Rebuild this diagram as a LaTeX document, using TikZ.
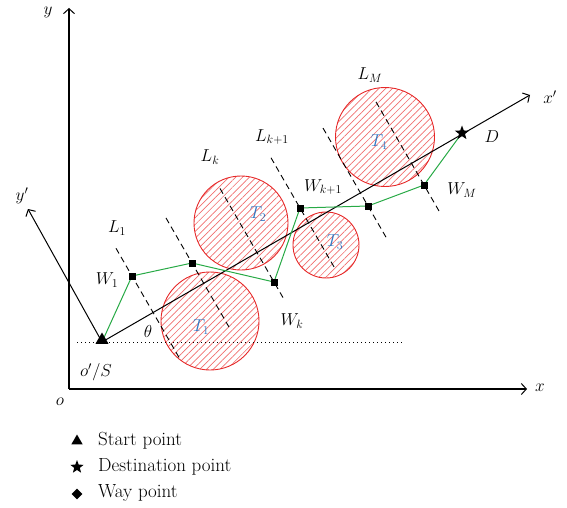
\documentclass[tikz,border=0pt]{standalone}
\usetikzlibrary{arrows.meta,shapes.geometric,shapes.misc,calc,patterns.meta}
\definecolor{hatchred}{RGB}{240,110,110}
\definecolor{circred}{RGB}{230,40,40}
\definecolor{pathgreen}{RGB}{40,170,70}
\definecolor{tblue}{RGB}{50,120,195}
\tikzset{
  lbl/.style={font=\fontsize{18}{21}\selectfont, inner sep=0pt},
  leg/.style={font=\fontsize{19}{22}\selectfont, inner sep=0pt},
  tlbl/.style={font=\fontsize{18}{21}\selectfont, inner sep=0pt, text=tblue},
  axis/.style={line width=1.6pt, -{Straight Barb[length=5pt,width=11pt,line width=1pt]}},
  paxis/.style={line width=1pt, -{Straight Barb[length=5pt,width=11pt,line width=1pt]}},
  obst/.style={draw=circred, line width=0.9pt, pattern={Lines[angle=45,distance=4.8pt,line width=0.7pt]}, pattern color=hatchred},
  wp/.style={fill=black, rectangle, minimum size=7pt, inner sep=0pt},
  gpath/.style={draw=pathgreen, line width=1pt},
  dline/.style={line width=0.9pt, dash pattern=on 6pt off 4pt},
}
\begin{document}
\begin{tikzpicture}[x=1pt,y=-1pt]
\useasboundingbox (0,0) rectangle (567,508);
% obstacles
\draw[obst] (210,321) circle (49);
\draw[obst] (241,223) circle (47);
\draw[obst] (326,245) circle (33);
\draw[obst] (385,137) circle (49.5);
\node[tlbl] (t1) at (201,327) {$T_1$};
\node[tlbl] (t2) at (258,214) {$T_2$};
\node[tlbl] (t3) at (335,242) {$T_3$};
\node[tlbl] (t4) at (379,142) {$T_4$};
% axes
\coordinate (o) at (69,389);
\coordinate (ytip) at (69,8);
\coordinate (xtip) at (527,389);
\draw[axis] (o) -- (ytip);
\draw[axis] (o) -- (xtip);
\node[lbl] (ylab) at (48,12) {$y$};
\node[lbl] (xlab) at (540,388) {$x$};
\node[lbl] (olab) at (60,402) {$o$};
% dotted
\coordinate (dl) at (77,342);
\coordinate (dr) at (405,342);
\draw[line width=0.8pt, dash pattern=on 1pt off 3pt] (dl) -- (dr);
% way points
\coordinate (S) at (102,342);
\node[wp] (w1) at (132,276) {};
\node[wp] (p2) at (192,263) {};
\node[wp] (wk) at (274,282) {};
\node[wp] (wk1) at (300,208) {};
\node[wp] (p5) at (368,206) {};
\node[wp] (wm) at (424,185) {};
\coordinate (D) at (462,133);
% dashed lines perpendicular to x'
\foreach \n/\a/\b in {w1/-32/94, p2/-52/75, wk/-108/18, wk1/-58/69, p5/-90/37, wm/-96/31}{
  \draw[dline] ($(\n)+(0.5*\a,0.866*\a)$) -- ($(\n)+(0.5*\b,0.866*\b)$);
}
% rotated axes
\coordinate (xptip) at (530,95);
\coordinate (yptip) at (28,209);
\draw[paxis] (S) -- (xptip);
\draw[paxis] (S) -- (yptip);
\node[lbl] (xplab) at (550,97) {$x'$};
\node[lbl] (yplab) at (22,196) {$y'$};
% green path
\draw[gpath] (S) -- (w1.center) -- (p2.center) -- (wk.center) -- (wk1.center) -- (p5.center) -- (wm.center) -- (D);
% redraw markers on top
\node[wp] at (w1) {};
\node[wp] at (p2) {};
\node[wp] at (wk) {};
\node[wp] at (wk1) {};
\node[wp] at (p5) {};
\node[wp] at (wm) {};
\node[regular polygon, regular polygon sides=3, fill=black, minimum size=15pt, inner sep=0pt] (Smark) at ($(S)+(0,-2)$) {};
\node[star, star points=5, star point ratio=2.4, fill=black, minimum size=15pt, inner sep=0pt] (Dmark) at (D) {};
% labels
\node[lbl] (thl) at (148,331) {$\theta$};
\node[lbl] (slab) at (96,372) {$o'/S$};
\node[lbl] (dlab) at (492,137) {$D$};
\node[lbl] (l1) at (117,228) {$L_1$};
\node[lbl] (lk) at (210,157) {$L_k$};
\node[lbl] (lk1) at (272,137) {$L_{k+1}$};
\node[lbl] (lm) at (370,75) {$L_M$};
\node[lbl] (w1l) at (107,280) {$W_1$};
\node[lbl] (wkl) at (292,321) {$W_k$};
\node[lbl] (wk1l) at (323,187) {$W_{k+1}$};
\node[lbl] (wml) at (462,190) {$W_M$};
% legend
\node[regular polygon, regular polygon sides=3, fill=black, minimum size=13pt, inner sep=0pt] (lg1) at (77,441) {};
\node[star, star points=5, star point ratio=2.4, fill=black, minimum size=14pt, inner sep=0pt] (lg2) at (77,467) {};
\node[diamond, fill=black, minimum size=11pt, inner sep=0pt] (lg3) at (77,494) {};
\node[leg, anchor=west] (lt1) at (98,441) {Start point};
\node[leg, anchor=west] (lt2) at (98,467) {Destination point};
\node[leg, anchor=west] (lt3) at (98,493) {Way point};
\end{tikzpicture}
\end{document}
